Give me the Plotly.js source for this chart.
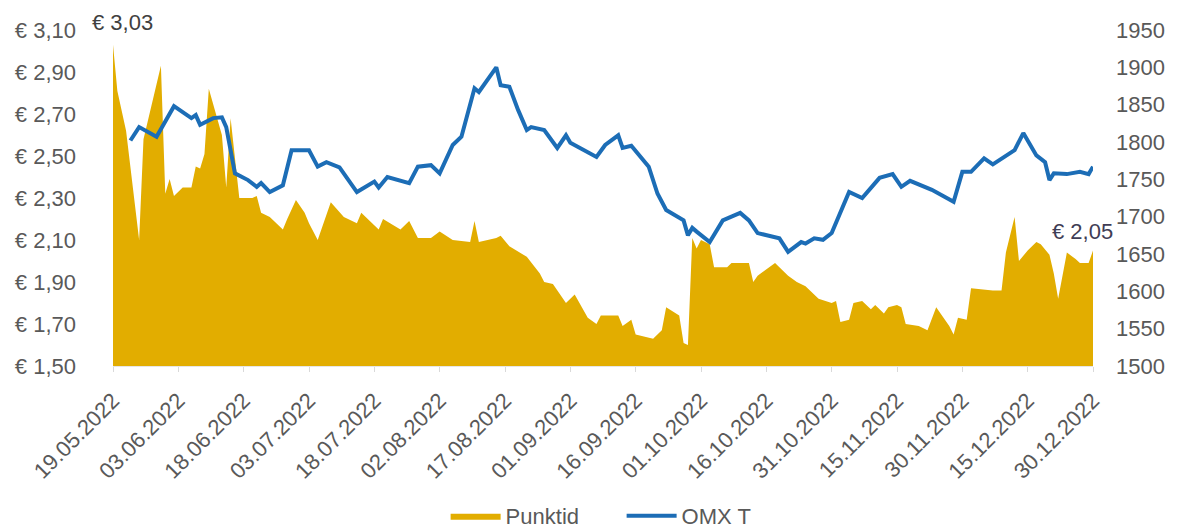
<!DOCTYPE html>
<html>
<head>
<meta charset="utf-8">
<script src="https://cdn.plot.ly/plotly-3.0.1.min.js"></script>
<style>html,body{margin:0;padding:0;background:#fff;}#chart{width:1179px;height:529px;}</style>
</head>
<body>
<div id="chart"></div>
<script>
const punktidDates = ['2022-05-19','2022-05-20','2022-05-22','2022-05-25','2022-05-26','2022-05-30','2022-05-31','2022-06-01','2022-06-02','2022-06-04','2022-06-06','2022-06-07','2022-06-08','2022-06-09','2022-06-10','2022-06-13','2022-06-14','2022-06-15','2022-06-17','2022-06-20','2022-06-21','2022-06-22','2022-06-24','2022-06-27','2022-06-28','2022-06-30','2022-07-02','2022-07-03','2022-07-05','2022-07-08','2022-07-11','2022-07-14','2022-07-15','2022-07-19','2022-07-20','2022-07-24','2022-07-26','2022-07-28','2022-07-31','2022-08-02','2022-08-05','2022-08-09','2022-08-10','2022-08-11','2022-08-15','2022-08-16','2022-08-18','2022-08-22','2022-08-25','2022-08-26','2022-08-28','2022-08-31','2022-09-02','2022-09-05','2022-09-07','2022-09-08','2022-09-12','2022-09-13','2022-09-15','2022-09-16','2022-09-20','2022-09-22','2022-09-23','2022-09-26','2022-09-27','2022-09-28','2022-09-29','2022-09-30','2022-10-01','2022-10-03','2022-10-04','2022-10-07','2022-10-08','2022-10-12','2022-10-13','2022-10-14','2022-10-18','2022-10-21','2022-10-23','2022-10-25','2022-10-28','2022-10-31','2022-11-01','2022-11-02','2022-11-04','2022-11-05','2022-11-07','2022-11-09','2022-11-10','2022-11-12','2022-11-13','2022-11-15','2022-11-16','2022-11-17','2022-11-20','2022-11-22','2022-11-24','2022-11-25','2022-11-27','2022-11-28','2022-11-29','2022-12-01','2022-12-02','2022-12-07','2022-12-09','2022-12-10','2022-12-12','2022-12-13','2022-12-15','2022-12-17','2022-12-18','2022-12-20','2022-12-21','2022-12-22','2022-12-24','2022-12-26','2022-12-27','2022-12-29','2022-12-30'];
const punktidValues = [3.03,2.81,2.62,2.10,2.58,2.93,2.32,2.39,2.31,2.35,2.35,2.45,2.44,2.51,2.82,2.60,2.35,2.68,2.30,2.30,2.31,2.23,2.21,2.15,2.20,2.29,2.23,2.18,2.10,2.28,2.21,2.18,2.23,2.15,2.20,2.15,2.19,2.11,2.11,2.14,2.10,2.09,2.19,2.09,2.11,2.12,2.07,2.02,1.94,1.90,1.89,1.80,1.84,1.73,1.70,1.74,1.74,1.69,1.72,1.65,1.63,1.67,1.78,1.74,1.61,1.60,2.11,2.06,2.10,2.08,1.97,1.97,1.99,1.99,1.90,1.93,1.99,1.93,1.90,1.88,1.82,1.80,1.81,1.71,1.72,1.80,1.81,1.77,1.79,1.75,1.78,1.79,1.78,1.70,1.69,1.67,1.78,1.75,1.69,1.65,1.73,1.72,1.87,1.86,1.86,2.04,2.21,2.00,2.05,2.09,2.08,2.03,1.94,1.82,2.04,2.01,1.99,1.99,2.05];

const omxDates = ['2022-05-23','2022-05-25','2022-05-29','2022-06-02','2022-06-06','2022-06-07','2022-06-08','2022-06-11','2022-06-13','2022-06-14','2022-06-16','2022-06-19','2022-06-21','2022-06-22','2022-06-24','2022-06-27','2022-06-29','2022-07-03','2022-07-05','2022-07-07','2022-07-10','2022-07-14','2022-07-18','2022-07-19','2022-07-21','2022-07-26','2022-07-28','2022-07-31','2022-08-02','2022-08-05','2022-08-07','2022-08-10','2022-08-11','2022-08-15','2022-08-16','2022-08-18','2022-08-20','2022-08-22','2022-08-23','2022-08-26','2022-08-29','2022-08-31','2022-09-01','2022-09-07','2022-09-09','2022-09-12','2022-09-13','2022-09-15','2022-09-19','2022-09-21','2022-09-23','2022-09-27','2022-09-28','2022-09-29','2022-09-30','2022-10-03','2022-10-06','2022-10-10','2022-10-12','2022-10-14','2022-10-19','2022-10-21','2022-10-24','2022-10-25','2022-10-27','2022-10-29','2022-10-31','2022-11-04','2022-11-07','2022-11-09','2022-11-11','2022-11-14','2022-11-16','2022-11-18','2022-11-23','2022-11-28','2022-11-30','2022-12-02','2022-12-05','2022-12-07','2022-12-12','2022-12-14','2022-12-17','2022-12-19','2022-12-20','2022-12-21','2022-12-24','2022-12-27','2022-12-29','2022-12-30'];
const omxValues = [1802,1820,1807,1848,1832,1836,1823,1832,1833,1820,1758,1749,1740,1745,1733,1742,1789,1789,1767,1773,1766,1733,1747,1739,1753,1745,1767,1769,1758,1796,1807,1872,1867,1900,1876,1874,1843,1816,1820,1816,1792,1809,1799,1780,1796,1809,1792,1795,1767,1731,1709,1695,1675,1685,1680,1666,1695,1705,1695,1678,1671,1653,1666,1664,1671,1669,1678,1733,1725,1738,1752,1757,1740,1748,1736,1720,1760,1760,1778,1770,1789,1812,1782,1773,1749,1758,1757,1760,1757,1767];

const tickDates = ['2022-05-19','2022-06-03','2022-06-18','2022-07-03','2022-07-18','2022-08-02','2022-08-17','2022-09-01','2022-09-16','2022-10-01','2022-10-16','2022-10-31','2022-11-15','2022-11-30','2022-12-15','2022-12-30'];
const tickLabels = ['19.05.2022','03.06.2022','18.06.2022','03.07.2022','18.07.2022','02.08.2022','17.08.2022','01.09.2022','16.09.2022','01.10.2022','16.10.2022','31.10.2022','15.11.2022','30.11.2022','15.12.2022','30.12.2022'];

const seriesNames = ['Punktid', 'OMX T'];
const firstLabel = '€ 3,03';
const lastLabel = '€ 2,05';

const FONT = 'Liberation Sans, Arial, sans-serif';
const GRAY = '#595959';

const traces = [
  {
    x: punktidDates, y: punktidValues, name: seriesNames[0],
    type: 'scatter', mode: 'lines', fill: 'tozeroy',
    fillcolor: '#e2ad00', line: {width: 0, color: '#e2ad00'},
    yaxis: 'y', hoverinfo: 'skip'
  },
  {
    x: omxDates, y: omxValues, name: seriesNames[1],
    type: 'scatter', mode: 'lines',
    line: {width: 4, color: '#1c6db6'},
    yaxis: 'y2', hoverinfo: 'skip'
  }
];

const layout = {
  width: 1179, height: 529,
  margin: {l: 113, r: 86, t: 30, b: 163, autoexpand: false},
  paper_bgcolor: '#fff', plot_bgcolor: '#fff',
  separators: ',.',
  font: {family: FONT, size: 22, color: GRAY},
  showlegend: true,
  legend: {
    orientation: 'h', x: 0.519, xanchor: 'center', y: -0.446, yanchor: 'middle',
    font: {family: FONT, size: 22, color: GRAY}, itemwidth: 50, traceorder: 'normal',
    entrywidth: 111, entrywidthmode: 'pixels'
  },
  xaxis: {
    type: 'date', range: ['2022-05-19', '2022-12-30'], automargin: false,
    tickmode: 'array', tickvals: tickDates, ticktext: tickLabels,
    tickangle: -45, ticks: 'outside', ticklen: 5, tickcolor: '#d9d9d9',
    ticklabelstandoff: 7,
    showline: true, linecolor: '#e6e6e6', showgrid: false, zeroline: false,
    tickfont: {family: FONT, size: 22, color: GRAY}
  },
  yaxis: {
    range: [1.5, 3.1], dtick: 0.2, tick0: 1.5, tickformat: '.2f', tickprefix: '€ ',
    showgrid: false, zeroline: false, showline: false, ticks: '', automargin: false,
    ticklabelstandoff: 36,
    tickfont: {family: FONT, size: 22, color: GRAY}
  },
  yaxis2: {
    overlaying: 'y', side: 'right', range: [1500, 1950], dtick: 50, tick0: 1500,
    showgrid: false, zeroline: false, showline: false, ticks: '', automargin: false,
    ticklabelstandoff: 22,
    tickfont: {family: FONT, size: 22, color: GRAY}
  },
  annotations: [
    {x: punktidDates[0], y: punktidValues[0], xref: 'x', yref: 'y', text: firstLabel,
     showarrow: false, xshift: 9, yshift: 22, font: {family: FONT, size: 22, color: '#404040'}},
    {x: punktidDates[punktidDates.length - 1], y: punktidValues[punktidValues.length - 1], xref: 'x', yref: 'y', text: lastLabel,
     showarrow: false, xshift: -11, yshift: 19, font: {family: FONT, size: 22, color: '#3f3d55'}}
  ]
};

Plotly.newPlot('chart', traces, layout, {staticPlot: true, displayModeBar: false});
</script>
</body>
</html>
